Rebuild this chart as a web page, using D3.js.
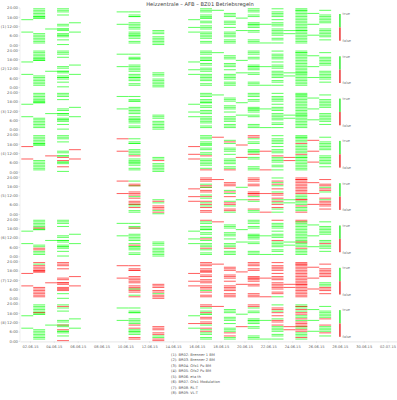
<!DOCTYPE html>
<html><head><meta charset="utf-8">
<script src="https://cdn.jsdelivr.net/npm/d3@7"></script>
<style>body{margin:0;background:#fff}svg{display:block}text{font-family:"DejaVu Sans",sans-serif}</style>
</head><body><svg id="c" width="397" height="400"></svg>
<script>
const title = "Heizzentrale – AFB – BZ01 Betriebsregeln";
const seriesNames = ["BR02: Brenner 1 BM","BR03: Brenner 2 BM","BR04: Ofx1 Pu BM","BR05: Ofx2 Pu BM","BR06: eta th","BR07: Ofx1 Modulation","BR08: RL-T","BR09: VL-T"];
const columnDates = ["2015-06-01","2015-06-02","2015-06-03","2015-06-04","2015-06-05","2015-06-09","2015-06-10","2015-06-12","2015-06-15","2015-06-16","2015-06-17","2015-06-18","2015-06-19","2015-06-20","2015-06-21","2015-06-22","2015-06-23","2015-06-24","2015-06-25","2015-06-26"];
const columnHours = [
  [16,8],
  [23,22,21,20,19,18,18,17,17,7,6,5,4,3,2,1],
  [10],
  [23,22,21,19,13,12,10,10,9,7,6,6,5,3,0],
  [14,8],
  [21,13],
  [21,19,18,18,14,13,12,11,10,8,7,6,6,5,4,2,1],
  [9,8,7,5,4,3,2,1,0],
  [16,11,8],
  [23,22,21,19,18,17,17,15,14,12,11,10,8,7,6,5,4,2,1],
  [22],
  [20,19,18,15,14,13,11,8,7,6,5,3,2,1],
  [17,9],
  [23,22,21,19,18,14,13,13,12,11,9,8,3,2,1],
  [13,1],
  [23,21,20,19,18,16,14,13,12,10,9,8,7,6,4,3,1],
  [9,7],
  [23,22,22,21,20,19,18,17,16,15,14,13,12,11,10,9,9,8,7,6,5,4,3,2,1],
  [20,13,6],
  [22,19,18,17,16,15,14,10,9,8,7,6,5,3]
];
// g = true, r = false, n = no value; a single letter applies to the whole column
const panelStates = [
  ["g","g","g","g","g","g","g","g","g","g","g","g","g","g","g","g","g","g","g","g"],
  ["g","g","g","g","g","g","g","g","g","g","g","g","g","g","g","g","g","g","g","g"],
  ["g","g","g","g","g","g","g","g","g","g","g","g","g","g","g","g","g","g","g","g"],
  ["r","g","r","ggggggggrrgggrg","r","r","ggggggggrgggggggg","ggrgggggg","r","gggggggggggrggggggr","r","grgggggggggggr","r","rrgggggggrggggg","r","gggggggggrggggggg","r","ggggggrggggggrggggggggggg","r","g"],
  ["n","n","n","n","n","r","grgrrrrgrrrgrgrgg","grgrrrgrg","r","rrrgrrgrrgrgrgrgrrr","r","rrrgrgrgrrgrrg","g","rrrrrrrrrgrgrgg","r","grgrgrgrrrgrgrrgg","g","rrrrrrrrrrrrgggrrgggrgggr","r","rrrgrrgrgrrrrr"],
  ["g","ggggggrggggrrggg","g","g","g","g","gggrggggggrgggggg","g","g","rgggggggggrggggrggg","r","ggggggggggrggg","g","g","g","rggggggggrggggggg","g","rrggggggggggggggrgggrgggg","g","gggggggggrgggg"],
  ["r","rgrrrrrrrrrrrrrr","r","rrrrrrrrrrrrrgg","r","r","rrrrrrrrrrrrgrrgr","rrrrrgrrr","r","rrrrrrrrrrrrrrrgrrr","r","r","r","r","r","rrrrrrrrrrrrrrrrg","r","r","r","rrrrrrrgggrrrr"],
  ["g","ggggggrggggggggg","g","grggggrggrggggr","g","g","ggggggggrrgggggrr","rrrrrggrr","grg","rrggrggrrrrgrgrgggg","r","ggggggggggrrgg","gr","rrggggggggggggg","gg","grrgrrgrrrggggggg","rr","ggrgrgrrggrgrrrgrgrrgggrg","g","ggggggrrggggrg"]
];
const xTickDates = ["2015-06-02","2015-06-04","2015-06-06","2015-06-08","2015-06-10","2015-06-12","2015-06-14","2015-06-16","2015-06-18","2015-06-20","2015-06-22","2015-06-24","2015-06-26","2015-06-28","2015-06-30","2015-07-02"];
const yTickHours = [0,6,12,18,24];
const stateLabels = ["true","false"];

const svg = d3.select("#c");
const parse = d3.utcParse("%Y-%m-%d");
const fmt = d3.utcFormat("%d.%m.%y");
const x = d3.scaleUtc()
  .domain([new Date(Date.UTC(2015,5,1,3,52)), new Date(Date.UTC(2015,6,2,19,8))])
  .range([20, 397]);
const colShift = 6.5 * 3600e3;
const dayMs = 86400e3;
const panelTop = 8, panelH = 37.3, panelStep = 42.3;
const GREEN = "#00ff00", RED = "#ff0000";
const lineH = 1.05;

svg.append("text").attr("x", 200).attr("y", 6).attr("text-anchor","middle")
  .attr("font-size", 5.2).attr("fill","#444").text(title);

panelStates.forEach((states, p) => {
  const top = panelTop + p * panelStep;
  const y = d3.scaleLinear().domain([0,24]).range([top + panelH, top]);
  const g = svg.append("g");
  columnDates.forEach((ds, c) => {
    const d0 = +parse(ds) + colShift;
    const x0 = x(new Date(d0)), x1 = x(new Date(d0 + dayMs));
    const st = states[c];
    columnHours[c].forEach((h, k) => {
      const s = st.length === 1 ? st : st[k];
      if (!s || s === "n") return;
      g.append("rect")
        .attr("x", x0).attr("width", x1 - x0)
        .attr("y", y(h + 0.5) - lineH / 2).attr("height", lineH)
        .attr("fill", s === "g" ? GREEN : RED)
        .attr("fill-opacity", 0.6);
    });
  });
  const ax = svg.append("g");
  yTickHours.forEach(h => {
    ax.append("text").attr("x", 18).attr("y", y(h) + 1.3).attr("text-anchor","end")
      .attr("font-size", 3.8).attr("fill","#666").text(h + ":00");
    ax.append("line").attr("x1", 18.6).attr("x2", 20).attr("y1", y(h)).attr("y2", y(h))
      .attr("stroke","#bbb").attr("stroke-width",0.4);
  });
  ax.append("text").attr("x", 0.8).attr("y", y(12) + 1.3).attr("font-size", 3.8)
    .attr("fill","#666").text("(" + (p + 1) + ")");
  const yb = d3.scaleBand().domain(stateLabels).range([top + 6, top + 32.7]);
  stateLabels.forEach((lab, i) => {
    svg.append("rect").attr("x", 339).attr("width", 1.8)
      .attr("y", yb(lab)).attr("height", yb.bandwidth())
      .attr("fill", i === 0 ? "#55ee55" : "#ee5555");
  });
  svg.append("text").attr("x", 342.5).attr("y", top + 7.3).attr("font-size", 3.6).attr("fill","#777").text(stateLabels[0]);
  svg.append("text").attr("x", 342.5).attr("y", top + 34).attr("font-size", 3.6).attr("fill","#777").text(stateLabels[1]);
});

const axisY = panelTop + 7 * panelStep + panelH;
svg.append("line").attr("x1",20).attr("x2",20).attr("y1",panelTop).attr("y2",axisY).attr("stroke","#ddd").attr("stroke-width",0.5);
const xAxis = d3.axisBottom(x).tickValues(xTickDates.map(parse)).tickFormat(fmt).tickSize(1.5).tickSizeOuter(0);
const xa = svg.append("g").attr("transform", `translate(0,${axisY})`).call(xAxis);
xa.select(".domain").attr("stroke","#ccc").attr("stroke-width",0.5);
xa.selectAll(".tick line").attr("stroke","#ccc").attr("stroke-width",0.4);
xa.selectAll(".tick text").attr("font-size",3.6).attr("fill","#666").attr("font-family","DejaVu Sans").attr("dy","0.9em").attr("y",3);

seriesNames.forEach((n, i) => {
  svg.append("text").attr("x", 171).attr("y", 356 + i * 5.45).attr("font-size", 3.6)
    .attr("fill","#555").text("(" + (i + 1) + "): " + n);
});
</script></body></html>
